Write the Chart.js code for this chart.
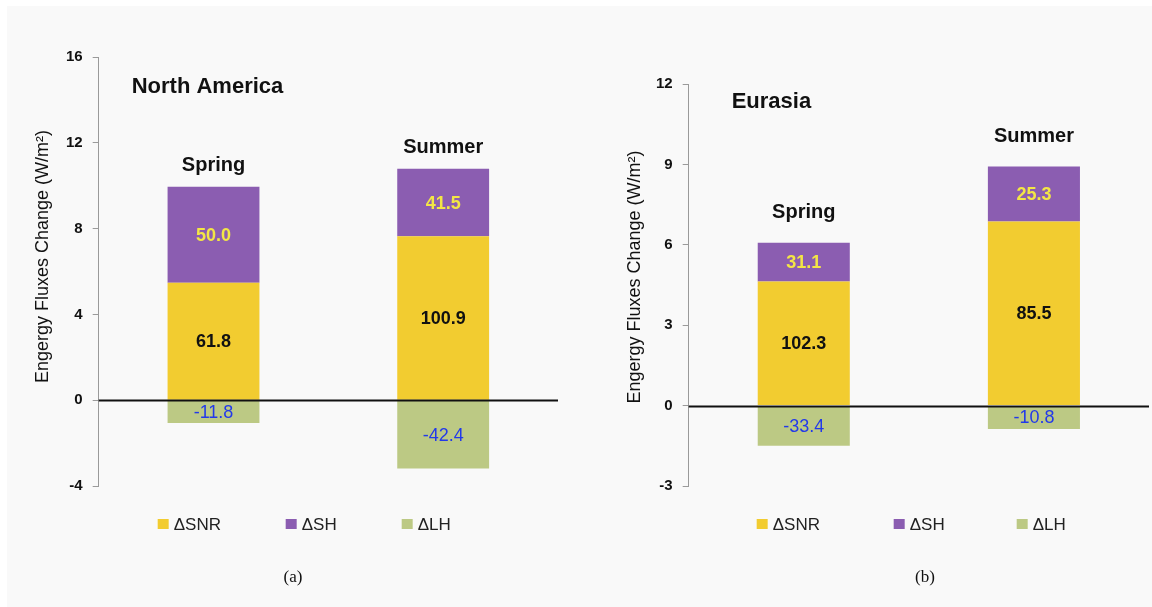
<!DOCTYPE html>
<html>
<head>
<meta charset="utf-8">
<script src="https://cdn.jsdelivr.net/npm/chart.js@4"></script>
<style>
  html, body { margin: 0; padding: 0; background: #ffffff; }
  #wrap { position: relative; width: 1152px; height: 607px; overflow: hidden; }
  #bg { position: absolute; left: 7px; top: 6px; right: 0; bottom: 0; background: #f9f9f9; }
  canvas { position: absolute; top: 0; }
  #naChart { left: 0; }
  #euChart { left: 576px; }
</style>
</head>
<body>
<div id="wrap">
  <div id="bg"></div>
  <canvas id="naChart" width="576" height="607"></canvas>
  <canvas id="euChart" width="576" height="607"></canvas>
</div>
<script>
const SEASONS = ["Spring", "Summer"];
const SERIES = ["\u0394SNR", "\u0394SH", "\u0394LH"];

// flux change, W/m2
const naSNR = [5.48, 7.64];
const naSH  = [4.47, 3.15];
const naLH  = [-1.06, -3.18];
const euSNR = [4.63, 6.87];
const euSH  = [1.45, 2.05];
const euLH  = [-1.50, -0.87];

// share of the net change (%), printed in the bars
const naSNRpct = ["61.8", "100.9"];
const naSHpct  = ["50.0", "41.5"];
const naLHpct  = ["-11.8", "-42.4"];
const euSNRpct = ["102.3", "85.5"];
const euSHpct  = ["31.1", "25.3"];
const euLHpct  = ["-33.4", "-10.8"];

const naTicks = [-4, 16, 4];
const euTicks = [-3, 12, 3];

const FILL  = ["#f2cc30", "#8b5db1", "#bcc984"];
const INK   = ["#111111", "#f3e645", "#2239ea"];
const FONT  = "'Liberation Sans', Arial, sans-serif";
const YTITLE = "Engergy Fluxes Change (W/m\u00b2)";

const panelPlugin = {
  id: "panel",
  afterDatasetsDraw(chart, args, o) {
    const ctx = chart.ctx;
    const a = chart.chartArea;
    const y = chart.scales.y;
    ctx.save();

    // zero line
    const y0 = Math.round(y.getPixelForValue(0)) + 0.5;
    ctx.strokeStyle = "#111";
    ctx.lineWidth = 2;
    ctx.beginPath();
    ctx.moveTo(a.left, y0);
    ctx.lineTo(a.right, y0);
    ctx.stroke();

    // values inside the segments
    ctx.textAlign = "center";
    ctx.textBaseline = "middle";
    chart.data.datasets.forEach((ds, di) => {
      const meta = chart.getDatasetMeta(di);
      meta.data.forEach((bar, i) => {
        ctx.fillStyle = INK[di];
        ctx.font = (di === 2 ? "normal " : "bold ") + "18px " + FONT;
        ctx.fillText(ds.pct[i], bar.x, (bar.y + bar.base) / 2 + 1);
      });
    });

    // season names over the bars
    const top = chart.getDatasetMeta(1).data;
    ctx.fillStyle = "#111";
    ctx.font = "bold 20px " + FONT;
    top.forEach((bar, i) => {
      ctx.fillText(SEASONS[i], bar.x, bar.y - o.seasonGap);
    });

    // region name
    ctx.textAlign = "left";
    ctx.font = "bold 22px " + FONT;
    ctx.fillText(o.region, a.left + o.regionX, a.top + o.regionY);

    // y title
    ctx.save();
    ctx.translate(o.titleX, (a.top + a.bottom) / 2 + o.titleDy);
    ctx.rotate(-Math.PI / 2);
    ctx.textAlign = "center";
    ctx.font = "18px " + FONT;
    ctx.fillText(YTITLE, 0, 0);
    ctx.restore();

    // legend
    ctx.font = "17px " + FONT;
    ctx.textAlign = "left";
    SERIES.forEach((name, k) => {
      const x = a.left + o.legendX[k];
      ctx.fillStyle = FILL[k];
      ctx.fillRect(x, o.legendY - 5, 11, 10);
      ctx.fillStyle = "#222";
      ctx.fillText(name, x + 16, o.legendY + 1);
    });

    // caption
    ctx.textAlign = "center";
    ctx.font = "17px 'Liberation Serif', 'Times New Roman', serif";
    ctx.fillStyle = "#111";
    ctx.fillText(o.caption, o.captionX, 578);

    ctx.restore();
  }
};

function makeChart(id, snr, sh, lh, pcts, ticks, pad, opts) {
  return new Chart(document.getElementById(id), {
    type: "bar",
    data: {
      labels: SEASONS,
      datasets: [
        { label: SERIES[0], data: snr, backgroundColor: FILL[0], pct: pcts[0] },
        { label: SERIES[1], data: sh,  backgroundColor: FILL[1], pct: pcts[1] },
        { label: SERIES[2], data: lh,  backgroundColor: FILL[2], pct: pcts[2] }
      ]
    },
    options: {
      responsive: false,
      animation: false,
      layout: { padding: pad },
      datasets: { bar: { barPercentage: 0.5, categoryPercentage: 0.8 } },
      plugins: {
        legend: { display: false },
        tooltip: { enabled: false },
        panel: opts
      },
      scales: {
        x: { stacked: true, display: false },
        y: {
          stacked: true,
          min: ticks[0],
          max: ticks[1],
          ticks: {
            stepSize: ticks[2],
            color: "#111",
            padding: 10,
            font: { family: FONT, size: 15, weight: "bold" }
          },
          grid: { drawOnChartArea: false, drawTicks: true, tickLength: 6, color: "#9a9a9a" },
          border: { display: true, color: "#9a9a9a", width: 1 }
        }
      }
    },
    plugins: [panelPlugin]
  });
}

makeChart("naChart", naSNR, naSH, naLH, [naSNRpct, naSHpct, naLHpct], naTicks,
  { left: 56, right: 18, top: 57, bottom: 121 },
  { region: "North America", regionX: 33, regionY: 30, seasonGap: 21, titleX: 43, titleDy: -15,
    legendX: [59, 187, 303], legendY: 524, caption: "(a)", captionX: 293 });

makeChart("euChart", euSNR, euSH, euLH, [euSNRpct, euSHpct, euLHpct], euTicks,
  { left: 70, right: 3, top: 84, bottom: 121 },
  { region: "Eurasia", regionX: 43, regionY: 18, seasonGap: 30, titleX: 59, titleDy: -8,
    legendX: [68, 205, 328], legendY: 524, caption: "(b)", captionX: 349 });
</script>
</body>
</html>
